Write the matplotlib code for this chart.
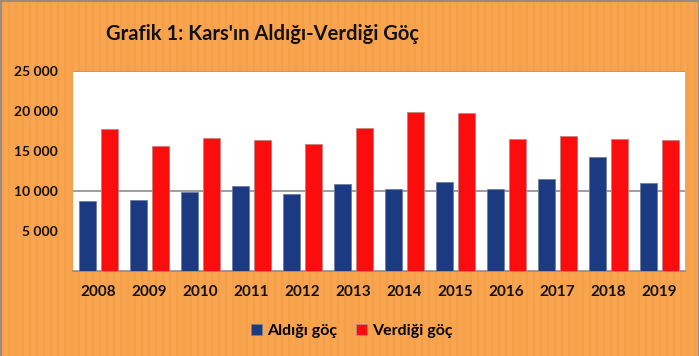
import numpy as np
import matplotlib
matplotlib.use("Agg")
import matplotlib.pyplot as plt
from matplotlib.ticker import FuncFormatter

years = ["2008", "2009", "2010", "2011", "2012", "2013",
         "2014", "2015", "2016", "2017", "2018", "2019"]
aldigi = [8700, 8900, 9900, 10600, 9600, 10900,
          10200, 11100, 10200, 11500, 14200, 10950]
verdigi = [17700, 15600, 16600, 16300, 15900, 17900,
           19900, 19700, 16500, 16900, 16500, 16300]
yticks = [5000, 10000, 15000, 20000, 25000]

ORANGE = "#f9a44e"
BLUE = "#1b3a82"
RED = "#fb0d0d"

plt.rcParams["font.family"] = ["Lato", "DejaVu Sans"]

fig = plt.figure(figsize=(6.99, 3.56), dpi=100, facecolor=ORANGE)

# faint vertical stripes like the original background texture
bg = fig.add_axes([0, 0, 1, 1], zorder=-10)
bg.set_xlim(0, 699)
bg.set_ylim(0, 356)
bg.axis("off")
for xs in np.arange(2, 699, 7):
    bg.axvline(xs, color="#f39a45", lw=1.6, alpha=0.45)
for edge in [0.5, 698.5]:
    bg.axvline(edge, color="#9a8c80", lw=1.5)
bg.axhline(355.5, color="#9a8c80", lw=1.5)

ax = fig.add_axes([0.1044, 0.2396, 0.8756, 0.5618])
ax.set_facecolor("white")

x = np.arange(len(years))
w = 0.33
ax.bar(x - 0.21, aldigi, w, color=BLUE, edgecolor="#6f7f9f", lw=0.6, label="Aldığı göç", zorder=3)
ax.bar(x + 0.21, verdigi, w, color=RED, edgecolor="#c98080", lw=0.6, label="Verdiği göç", zorder=3)

ax.set_xlim(-0.5, len(years) - 0.5)
ax.set_ylim(0, 25000)
ax.set_yticks(yticks)
ax.yaxis.set_major_formatter(FuncFormatter(lambda v, p: f"{int(v):,}".replace(",", " ")))
ax.axhline(10000, color="#8c8c8c", lw=1.2, zorder=2)
ax.axhline(25000, color="#8c8c8c", lw=1.2, zorder=2)

ax.set_xticks(x)
ax.set_xticklabels(years)
for lab in ax.get_xticklabels():
    lab.set_fontweight("bold")
    lab.set_fontsize(11)
    lab.set_color("#111111")
for lab in ax.get_yticklabels():
    lab.set_fontweight("bold")
    lab.set_fontsize(10)
    lab.set_color("#111111")
ax.tick_params(axis="both", length=0)
ax.tick_params(axis="x", pad=10)
ax.tick_params(axis="y", pad=11)

for side in ["top", "right", "left"]:
    ax.spines[side].set_visible(False)
ax.spines["bottom"].set_color("#8c8c8c")
ax.spines["bottom"].set_linewidth(1.2)

fig.text(0.375, 0.905, "Grafik 1: Kars'ın Aldığı-Verdiği Göç", ha="center", va="center",
         fontsize=14.5, fontweight="bold", color="#111111")

leg = fig.legend(loc="center", bbox_to_anchor=(0.503, 0.07), ncol=2, frameon=False,
                 handlelength=0.7, handleheight=0.7, handletextpad=0.3, columnspacing=1.2,
                 prop={"weight": "bold", "size": 11.5})

fig.savefig("out.png", dpi=100, facecolor=ORANGE)
